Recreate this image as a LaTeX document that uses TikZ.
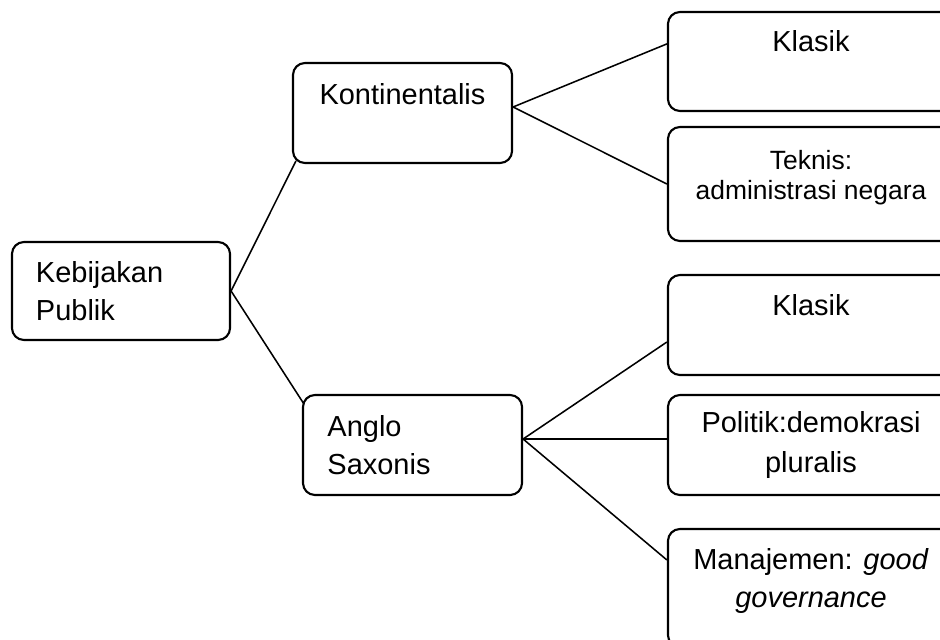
\documentclass[tikz,border=0pt]{standalone}
\usepackage{fontspec}
\setmainfont{Liberation Sans}
\begin{document}
\begin{tikzpicture}[x=0.025cm, y=-0.025cm,
    kotak/.style={draw, line width=1.5pt, rounded corners=0.3cm, minimum width=7.15cm, minimum height=2.5cm, align=center, font=\fontsize{20.6}{27.5}\selectfont},
    garis/.style={line width=1.1pt}]
    \useasboundingbox (0,0) rectangle (940,639);

    % Nodes
    \node[kotak, minimum width=5.45cm, minimum height=2.45cm, text width=4.25cm, align=left] (kebijakan) at (121,291) {Kebijakan\\Publik};
    \node[kotak, minimum width=5.475cm] (kontinental) at (402.5,113) {Kontinentalis\\\mbox{}};
    \node[kotak, minimum width=5.475cm, text width=4.25cm, align=left] (anglo) at (412.5,445) {Anglo\\Saxonis};
    \node[kotak, minimum height=2.475cm] (klasikA) at (811,61.5) {Klasik\\[1pt]\mbox{}};
    \node[kotak, minimum height=2.85cm, font=\fontsize{18.8}{21.8}\selectfont] (teknis) at (811,184) {Teknis:\\administrasi negara\\[-9pt]\mbox{}};
    \node[kotak] (klasikB) at (811,325) {Klasik\\[1pt]\mbox{}};
    \node[kotak, font=\fontsize{20.6}{29}\selectfont] (politik) at (811,445) {Politik:demokrasi\\pluralis};
    \node[kotak, minimum height=2.95cm] (manajemen) at (811,588) {Manajemen: \textit{good}\\\textit{governance}\\[-13.5pt]\mbox{}};

    % Lines
    \draw[garis] (kebijakan.east) -- ([xshift=0.1cm,yshift=0.075cm]kontinental.south west);
    \draw[garis] (kebijakan.east) -- ([xshift=0.05cm,yshift=-0.25cm]anglo.north west);
    \draw[garis] ([yshift=0.15cm]kontinental.east) -- ([yshift=0.44cm]klasikA.west);
    \draw[garis] ([yshift=0.15cm]kontinental.east) -- (teknis.west);
    \draw[garis] ([yshift=0.15cm]anglo.east) -- ([yshift=-0.425cm]klasikB.west);
    \draw[garis] ([yshift=0.15cm]anglo.east) -- ([yshift=0.15cm]politik.west);
    \draw[garis] ([yshift=0.15cm]anglo.east) -- ([yshift=0.7cm]manajemen.west);

\end{tikzpicture}
\end{document}
